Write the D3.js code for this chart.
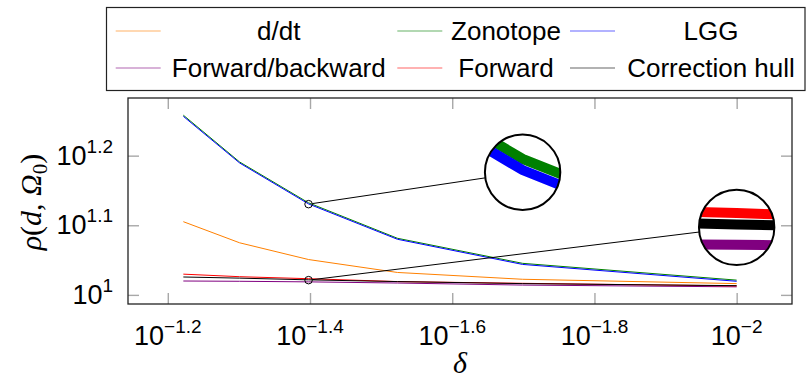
<!DOCTYPE html>
<html>
<head>
<meta charset="utf-8">
<script src="https://cdn.jsdelivr.net/npm/d3@7"></script>
<style>
  body { margin: 0; background: #fff; }
  svg text { font-family: "Liberation Sans", Arial, sans-serif; fill: #000; }
  .serif { font-family: "Liberation Serif", "DejaVu Serif", serif; }
</style>
</head>
<body>
<div id="graph"></div>
<script>
// values
var deltas = [0.06, 0.05, 0.04, 0.03, 0.02, 0.01];
var ddt = [12.74, 11.88, 11.24, 10.77, 10.53, 10.38];
var zonotope = [18.12, 15.52, 13.56, 12.06, 11.10, 10.50];
var lgg = [18.05, 15.47, 13.51, 12.02, 11.06, 10.46];
var fwdBwd = [10.47, 10.46, 10.44, 10.40, 10.33, 10.27];
var forward = [10.71, 10.62, 10.55, 10.45, 10.39, 10.30];
var corrHull = [10.61, 10.57, 10.51, 10.45, 10.38, 10.31];

var seriesNames = ["d/dt", "Zonotope", "LGG", "Forward/backward", "Forward", "Correction hull"];
var seriesValues = [ddt, zonotope, lgg, fwdBwd, forward, corrHull];
var seriesColors = ["#ff8000", "#008000", "#0000ff", "#800080", "#ff0000", "#000000"];

var xTickExps = [-1.2, -1.4, -1.6, -1.8, -2];
var yTickExps = [1, 1.1, 1.2];

// magnifier glasses: where they look and where they are drawn
var spySources = [[0.04, 13.5], [0.04, 10.5]];
var spyTargets = [[0.02, 15], [0.01, 12.5]];
var spyZoom = 10;
var spyRadius = 37.7;

var width = 810, height = 380;
var plot = { left: 128, right: 792, top: 98, bottom: 304 };

var svg, xScale, yScale, line;

function logDomain(values, enlarge) {
  var ext = d3.extent(values.map(Math.log10));
  var pad = enlarge * (ext[1] - ext[0]);
  return [Math.pow(10, ext[0] - pad), Math.pow(10, ext[1] + pad)];
}

function init() {
  svg = d3.select("#graph").append("svg")
    .attr("width", width)
    .attr("height", height);

  var xd = logDomain(deltas, 0.1);
  xScale = d3.scaleLog().domain([xd[1], xd[0]]).range([plot.left, plot.right]);

  var yd = logDomain(d3.merge(seriesValues), 0.1);
  yScale = d3.scaleLog().domain(yd).range([plot.bottom, plot.top]);

  line = d3.line()
    .x(function(d) { return xScale(d[0]); })
    .y(function(d) { return yScale(d[1]); });
}

function drawAxes() {
  var xVals = xTickExps.map(function(e) { return Math.pow(10, e); });
  var yVals = yTickExps.map(function(e) { return Math.pow(10, e); });

  var axes = [
    [d3.axisBottom(xScale).tickValues(xVals), [0, plot.bottom]],
    [d3.axisTop(xScale).tickValues(xVals), [0, plot.top]],
    [d3.axisLeft(yScale).tickValues(yVals), [plot.left, 0]],
    [d3.axisRight(yScale).tickValues(yVals), [plot.right, 0]]
  ];
  axes.forEach(function(a) {
    var g = svg.append("g")
      .attr("class", "axis")
      .attr("transform", "translate(" + a[1] + ")")
      .call(a[0].tickSizeInner(-11).tickSizeOuter(0).tickFormat(""));
    g.select(".domain").remove();
    g.selectAll(".tick line").attr("stroke", "#a8a8a8").attr("stroke-width", 1.4);
  });

  svg.append("rect")
    .attr("x", plot.left)
    .attr("y", plot.top)
    .attr("width", plot.right - plot.left)
    .attr("height", plot.bottom - plot.top)
    .attr("fill", "none")
    .attr("stroke", "#222")
    .attr("stroke-width", 1.3);

  // tick labels as 10^e
  xTickExps.forEach(function(e) {
    var t = svg.append("text")
      .attr("x", xScale(Math.pow(10, e)))
      .attr("y", 345)
      .attr("text-anchor", "middle")
      .attr("font-size", 27);
    t.append("tspan").text("10");
    t.append("tspan").attr("dy", -12).attr("font-size", 19).text("\u2212" + String(-e));
  });
  yTickExps.forEach(function(e) {
    var t = svg.append("text")
      .attr("x", 113)
      .attr("y", yScale(Math.pow(10, e)) + 9)
      .attr("text-anchor", "end")
      .attr("font-size", 27);
    t.append("tspan").text("10");
    t.append("tspan").attr("dy", -12).attr("font-size", 19).text(String(e));
  });

  svg.append("text")
    .attr("class", "serif")
    .attr("x", 460)
    .attr("y", 373)
    .attr("text-anchor", "middle")
    .attr("font-size", 30)
    .attr("font-style", "italic")
    .text("\u03b4");

  var yl = svg.append("text")
    .attr("class", "serif")
    .attr("transform", "translate(41,202)rotate(-90)")
    .attr("text-anchor", "middle")
    .attr("font-size", 30);
  yl.append("tspan").attr("font-style", "italic").text("\u03c1");
  yl.append("tspan").text("(");
  yl.append("tspan").attr("font-style", "italic").text("d");
  yl.append("tspan").text(", ");
  yl.append("tspan").attr("font-style", "italic").text("\u03a9");
  yl.append("tspan").attr("dy", 6).attr("font-size", 21).text("0");
  yl.append("tspan").attr("dy", -6).text(")");
}

function drawSeries(layer) {
  seriesValues.forEach(function(vals, i) {
    layer.append("path")
      .datum(deltas.map(function(d, j) { return [d, vals[j]]; }))
      .attr("fill", "none")
      .attr("stroke", seriesColors[i])
      .attr("stroke-width", 1)
      .attr("d", line);
  });
}

function drawSpies() {
  var defs = svg.append("defs");
  spySources.forEach(function(src, i) {
    var sx = xScale(src[0]), sy = yScale(src[1]);
    var tx = xScale(spyTargets[i][0]), ty = yScale(spyTargets[i][1]);
    var small = spyRadius / spyZoom;
    var dx = tx - sx, dy = ty - sy, len = Math.sqrt(dx * dx + dy * dy);

    svg.append("line")
      .attr("x1", sx + dx / len * small)
      .attr("y1", sy + dy / len * small)
      .attr("x2", tx - dx / len * spyRadius)
      .attr("y2", ty - dy / len * spyRadius)
      .attr("stroke", "#000")
      .attr("stroke-width", 1);

    svg.append("circle")
      .attr("cx", sx).attr("cy", sy).attr("r", small)
      .attr("fill", "none").attr("stroke", "#000").attr("stroke-width", 1);

    defs.append("clipPath").attr("id", "spy" + i)
      .append("circle").attr("cx", tx).attr("cy", ty).attr("r", spyRadius);

    var g = svg.append("g").attr("clip-path", "url(#spy" + i + ")");
    g.append("circle").attr("cx", tx).attr("cy", ty).attr("r", spyRadius).attr("fill", "#fff");
    drawSeries(g.append("g")
      .attr("transform", "translate(" + [tx, ty] + ")scale(" + spyZoom + ")translate(" + [-sx, -sy] + ")"));

    svg.append("circle")
      .attr("cx", tx).attr("cy", ty).attr("r", spyRadius)
      .attr("fill", "none").attr("stroke", "#000").attr("stroke-width", 2);
  });
}

function drawLegend() {
  var lineStarts = [115.7, 397.3, 570];
  var textCenters = [278.8, 506, 711];
  var rowY = [31, 68];

  svg.append("rect")
    .attr("x", 106.5).attr("y", 7.5)
    .attr("width", 698.5).attr("height", 83)
    .attr("fill", "#fff").attr("stroke", "#222").attr("stroke-width", 1.2);

  var entry = svg.append("g").attr("class", "legend")
    .selectAll("g")
    .data(seriesNames)
    .enter().append("g")
    .attr("transform", function(d, i) {
      return "translate(" + [0, rowY[Math.floor(i / 3)]] + ")";
    });

  entry.append("line")
    .attr("x1", function(d, i) { return lineStarts[i % 3]; })
    .attr("x2", function(d, i) { return lineStarts[i % 3] + 45; })
    .attr("stroke", function(d, i) { return seriesColors[i]; })
    .attr("stroke-opacity", 0.6)
    .attr("stroke-width", 1.2);

  entry.append("text")
    .attr("x", function(d, i) { return textCenters[i % 3]; })
    .attr("y", 9)
    .attr("text-anchor", "middle")
    .attr("font-size", 26)
    .text(function(d) { return d; });
}

init();
drawAxes();
drawSeries(svg.append("g").attr("class", "chartLayer"));
drawSpies();
drawLegend();
</script>
</body>
</html>
